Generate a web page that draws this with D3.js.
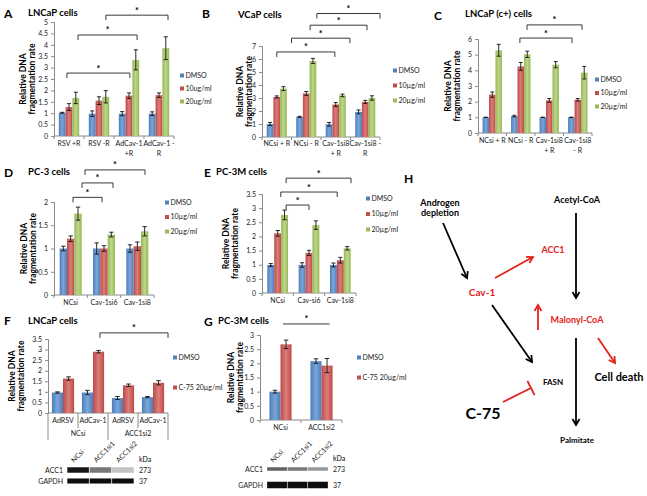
<!DOCTYPE html>
<html>
<head>
<meta charset="utf-8">
<script src="https://cdnjs.cloudflare.com/ajax/libs/d3/7.8.5/d3.min.js"></script>
<style>
  body { margin: 0; background: #fff; }
  svg { display: block; font-family: Lato, 'Open Sans', sans-serif; }
</style>
</head>
<body>
<div id="app"></div>
<script>
// ---- data ----
const legend3A = ['DMSO', '10ug/ml', '20ug/ml'];
const legend3 = ['DMSO', '10\u00b5g/ml', '20\u00b5g/ml'];
const legend2 = ['DMSO', 'C-75 20\u00b5g/ml'];

// A: LNCaP cells
const catsA = ['RSV +R', 'RSV -R', 'AdCav-1|+R', 'AdCav-1 -|R'];
const dmsoA = [1.02, 0.98, 0.98, 0.98];
const dmsoErrA = [0.02, 0.12, 0.09, 0.08];
const lowA = [1.27, 1.55, 1.77, 1.79];
const lowErrA = [0.15, 0.17, 0.12, 0.1];
const highA = [1.67, 1.72, 3.34, 3.85];
const highErrA = [0.25, 0.27, 0.44, 0.5];
const sigA = [[0.43, 2.53, 2.76], [0.8, 2.77, 4.43], [1.73, 3.8, 5.3]];

// B: VCaP cells
const catsB = ['NCsi + R', 'NCsi - R', 'Cav-1si8|+ R', 'Cav-1si8 -|R'];
const dmsoB = [1.0, 1.55, 0.98, 1.93];
const dmsoErrB = [0.12, 0.04, 0.14, 0.15];
const lowB = [3.08, 3.35, 2.5, 2.7];
const lowErrB = [0.08, 0.15, 0.15, 0.12];
const highB = [3.72, 5.85, 3.2, 3.0];
const highErrB = [0.15, 0.2, 0.1, 0.17];
const sigB = [[0.5, 2.47, 6.54], [1.0, 2.98, 7.6], [1.63, 3.56, 8.6], [1.86, 4.0, 9.5]];

// C: LNCaP (c+) cells
const catsC = ['NCsi + R', 'NCsi - R', 'Cav-1si8|+ R', 'Cav-1si8|- R'];
const dmsoC = [1.0, 1.08, 1.0, 1.0];
const dmsoErrC = [0.01, 0.05, 0.01, 0.01];
const lowC = [2.45, 4.25, 2.08, 2.12];
const lowErrC = [0.17, 0.25, 0.12, 0.08];
const highC = [5.28, 5.02, 4.36, 3.85];
const highErrC = [0.38, 0.2, 0.2, 0.4];
const sigC = [[1.47, 3.3, 6.06], [1.72, 3.65, 6.9]];

// D: PC-3 cells
const catsD = ['NCsi', 'Cav-1si6', 'Cav-1si8'];
const dmsoD = [1.0, 1.0, 1.0];
const dmsoErrD = [0.05, 0.12, 0.08];
const lowD = [1.21, 1.0, 1.05];
const lowErrD = [0.06, 0.06, 0.09];
const highD = [1.75, 1.3, 1.37];
const highErrD = [0.14, 0.05, 0.1];
const sigD = [[0.57, 1.44, 2.1], [0.84, 1.77, 2.41], [0.93, 2.73, 2.69]];

// E: PC-3M cells
const catsE = ['NCsi', 'Cav-si6', 'Cav-1si8'];
const dmsoE = [0.99, 0.99, 0.99];
const dmsoErrE = [0.05, 0.08, 0.07];
const lowE = [2.11, 1.42, 1.16];
const lowErrE = [0.1, 0.09, 0.1];
const highE = [2.76, 2.4, 1.58];
const highErrE = [0.17, 0.15, 0.06];
const sigE = [[0.77, 1.5, 3.11], [0.6, 2.4, 3.57], [0.77, 2.84, 4.06]];

// F: LNCaP cells, ACC1 knockdown
const catsF = ['AdRSV', 'AdCav-1', 'AdRSV', 'AdCav-1'];
const groupsF = ['NCsi', 'ACC1si2'];
const dmsoF = [0.97, 0.97, 0.71, 0.75];
const dmsoErrF = [0.03, 0.1, 0.07, 0.03];
const c75F = [1.63, 2.9, 1.31, 1.43];
const c75ErrF = [0.08, 0.06, 0.06, 0.1];
const sigF = [[1.73, 4.0, 3.79]];

// G: PC-3M cells, ACC1 knockdown
const catsG = ['NCsi', 'ACC1si2'];
const dmsoG = [1.0, 2.08];
const dmsoErrG = [0.05, 0.08];
const c75G = [2.67, 1.92];
const c75ErrG = [0.15, 0.25];
const sigG = [[0.56, 1.7, 3.39]];

// western blots: lanes and relative band intensity
const blotLanes = ['NCsi', 'ACC1si1', 'ACC1si2'];
const accF = [0.95, 0.5, 0.15];
const gapdhF = [1, 1, 1];
const accG = [0.6, 0.5, 0.35];
const gapdhG = [1, 1, 1];

// ---- drawing ----
const width = 647, height = 496;
const svg = d3.select('#app').append('svg')
  .attr('width', width).attr('height', height)
  .attr('viewBox', `0 0 ${width} ${height}`);

const defs = svg.append('defs');
const palette = [
  ['blue', '#4A7EBB', '#7CA5D8', '#4F81BD'],
  ['red', '#BC4A47', '#DC7D7A', '#C0504D'],
  ['green', '#96B853', '#BDD68E', '#9BBB59']
];
palette.forEach(([id, edge, mid]) => {
  const lg = defs.append('linearGradient').attr('id', 'g-' + id)
    .attr('x1', 0).attr('x2', 1).attr('y1', 0).attr('y2', 0);
  lg.append('stop').attr('offset', '0%').attr('stop-color', edge);
  lg.append('stop').attr('offset', '50%').attr('stop-color', mid);
  lg.append('stop').attr('offset', '100%').attr('stop-color', edge);
});
defs.append('filter').attr('id', 'blur')
  .append('feGaussianBlur').attr('stdDeviation', 0.6);

function panel(p) {
  const g = svg.append('g');
  const x = d3.scaleBand().domain(d3.range(p.cats.length)).range([p.x0, p.x1]);
  const bw = x.bandwidth();
  const groupW = bw * p.fill;
  const inner = d3.scaleBand().domain(d3.range(p.series.length)).range([0, groupW]);
  const off = (bw - groupW) / 2;
  const y = d3.scaleLinear().domain([0, p.max]).range([p.yBottom, p.yTop]);
  const unit = d3.scaleLinear().domain([0, p.cats.length]).range([p.x0, p.x1]);

  // letter + title
  g.append('text').attr('x', p.letter[1]).attr('y', p.letter[2])
    .attr('font-size', 12).attr('font-weight', 700).text(p.letter[0]);
  g.append('text').attr('x', p.titlePos[0]).attr('y', p.titlePos[1])
    .attr('font-size', 9.5).attr('font-weight', 700).text(p.title);

  // y axis
  const yAxis = g.append('g').attr('transform', `translate(${p.x0},0)`)
    .call(d3.axisLeft(y).tickValues(d3.range(0, p.max + p.step / 2, p.step))
      .tickSize(3).tickPadding(3).tickFormat(d3.format('~g')));
  yAxis.selectAll('text').attr('font-size', 7).attr('fill', '#222')
    .style('font-family', 'Lato, sans-serif');
  yAxis.selectAll('.domain, .tick line').attr('stroke', '#8a8a8a');

  // y title
  const yt = g.append('text').attr('font-size', 8.5).attr('font-weight', 700)
    .attr('text-anchor', 'middle')
    .attr('transform', `translate(${p.ytX},${(p.yTop + p.yBottom) / 2}) rotate(-90)`);
  yt.append('tspan').attr('x', 0).attr('dy', 0).text('Relative DNA');
  yt.append('tspan').attr('x', 0).attr('dy', 9).text('fragmentation rate');

  // x axis
  g.append('line').attr('x1', p.x0).attr('x2', p.x1)
    .attr('y1', y(0)).attr('y2', y(0)).attr('stroke', '#8a8a8a');
  const seps = d3.range(p.cats.length + 1);
  g.selectAll('.sep').data(seps).join('line')
    .attr('x1', d => unit(d)).attr('x2', d => unit(d))
    .attr('y1', y(0))
    .attr('y2', d => {
      if (!p.groups) return y(0) + 3;
      return (d % 2 === 0) ? y(0) + 27 : y(0) + 15;
    })
    .attr('stroke', '#8a8a8a');

  const lab = g.selectAll('.cat').data(p.cats).join('text')
    .attr('font-size', 7).attr('fill', '#222').attr('text-anchor', 'middle')
    .attr('transform', (d, i) => `translate(${x(i) + bw / 2},${y(0) + p.labelOff})`);
  lab.each(function (d) {
    d.split('|').forEach((line, k) => {
      d3.select(this).append('tspan').attr('x', 0).attr('dy', k ? 9.5 : 0).text(line);
    });
  });
  if (p.groups) {
    g.selectAll('.grp').data(p.groups).join('text')
      .attr('font-size', 7).attr('fill', '#222').attr('text-anchor', 'middle')
      .attr('x', (d, i) => unit(i * 2 + 1)).attr('y', y(0) + 23)
      .text(d => d);
  }

  // bars
  p.series.forEach((s, si) => {
    g.append('g').selectAll('rect').data(s.values).join('rect')
      .attr('x', (d, i) => x(i) + off + inner(si))
      .attr('y', d => y(d))
      .attr('width', inner.bandwidth())
      .attr('height', d => y(0) - y(d))
      .attr('fill', `url(#g-${palette[si][0]})`);
    const eb = g.append('g').attr('stroke', '#111').attr('stroke-width', 0.9);
    s.values.forEach((v, i) => {
      const cx = x(i) + off + inner(si) + inner.bandwidth() / 2;
      const e = s.errors[i];
      const cap = Math.min(4.5, inner.bandwidth() * 0.6);
      eb.append('line').attr('x1', cx).attr('x2', cx).attr('y1', y(v - e)).attr('y2', y(v + e));
      eb.append('line').attr('x1', cx - cap / 2).attr('x2', cx + cap / 2).attr('y1', y(v + e)).attr('y2', y(v + e));
      eb.append('line').attr('x1', cx - cap / 2).attr('x2', cx + cap / 2).attr('y1', y(v - e)).attr('y2', y(v - e));
    });
  });

  // significance brackets
  p.sig.forEach(([a, b, v]) => {
    const yy = y(v);
    const drop = p.plainSig ? 0 : 5;
    g.append('path')
      .attr('d', `M${unit(a)},${yy + drop}V${yy}H${unit(b)}V${yy + drop}`)
      .attr('fill', 'none').attr('stroke', '#222').attr('stroke-width', 0.9);
    g.append('text').attr('x', (unit(a) + unit(b)) / 2).attr('y', yy - 1.5)
      .attr('text-anchor', 'middle').attr('font-size', 9).attr('font-weight', 700)
      .text('*');
  });

  // legend
  const lg = g.append('g').attr('transform', `translate(${p.legend[0]},${p.legend[1]})`);
  p.series.forEach((s, si) => {
    const row = lg.append('g').attr('transform', `translate(0,${si * p.legend[2]})`);
    row.append('rect').attr('x', 0).attr('y', -3.5).attr('width', 4).attr('height', 4)
      .attr('fill', palette[si][3]);
    row.append('text').attr('x', 5.5).attr('y', 0.5).attr('font-size', 7).attr('fill', '#222')
      .text(s.name);
  });
}

panel({
  letter: ['A', 4, 18], title: 'LNCaP cells', titlePos: [28, 16],
  x0: 54, x1: 174, yTop: 22, yBottom: 136, max: 5, step: 0.5, fill: 0.68,
  cats: catsA, labelOff: 10, ytX: 26, sig: sigA,
  legend: [180, 77, 13],
  series: [
    { name: legend3A[0], values: dmsoA, errors: dmsoErrA },
    { name: legend3A[1], values: lowA, errors: lowErrA },
    { name: legend3A[2], values: highA, errors: highErrA }
  ]
});

panel({
  letter: ['B', 202, 18], title: 'VCaP cells', titlePos: [238, 18],
  x0: 262, x1: 380, yTop: 46, yBottom: 137, max: 7, step: 1, fill: 0.68,
  cats: catsB, labelOff: 9, ytX: 243, sig: sigB,
  legend: [393, 72, 15],
  series: [
    { name: legend3[0], values: dmsoB, errors: dmsoErrB },
    { name: legend3[1], values: lowB, errors: lowErrB },
    { name: legend3[2], values: highB, errors: highErrB }
  ]
});

panel({
  letter: ['C', 434, 20], title: 'LNCaP (c+) cells', titlePos: [465, 17],
  x0: 478, x1: 592, yTop: 39, yBottom: 133, max: 6, step: 1, fill: 0.68,
  cats: catsC, labelOff: 10, ytX: 451, sig: sigC,
  legend: [595, 81, 13.5],
  series: [
    { name: legend3[0], values: dmsoC, errors: dmsoErrC },
    { name: legend3[1], values: lowC, errors: lowErrC },
    { name: legend3[2], values: highC, errors: highErrC }
  ]
});

panel({
  letter: ['D', 4, 177], title: 'PC-3 cells', titlePos: [28, 175],
  x0: 54, x1: 154, yTop: 202, yBottom: 295, max: 2, step: 0.5, fill: 0.66,
  cats: catsD, labelOff: 10, ytX: 27, sig: sigD,
  legend: [165, 204, 14.5],
  series: [
    { name: legend3[0], values: dmsoD, errors: dmsoErrD },
    { name: legend3[1], values: lowD, errors: lowErrD },
    { name: legend3[2], values: highD, errors: highErrD }
  ]
});

panel({
  letter: ['E', 204, 177], title: 'PC-3M cells', titlePos: [216, 175],
  x0: 262, x1: 356, yTop: 194, yBottom: 293, max: 3.5, step: 0.5, fill: 0.66,
  cats: catsE, labelOff: 10, ytX: 229, sig: sigE,
  legend: [366, 200, 15.5],
  series: [
    { name: legend3[0], values: dmsoE, errors: dmsoErrE },
    { name: legend3[1], values: lowE, errors: lowErrE },
    { name: legend3[2], values: highE, errors: highErrE }
  ]
});

panel({
  letter: ['F', 4, 325], title: 'LNCaP cells', titlePos: [28, 324],
  x0: 48, x1: 168, yTop: 339, yBottom: 413, max: 3.5, step: 0.5, fill: 0.74,
  cats: catsF, groups: groupsF, labelOff: 10, ytX: 15, sig: sigF,
  legend: [173, 359, 30],
  series: [
    { name: legend2[0], values: dmsoF, errors: dmsoErrF },
    { name: legend2[1], values: c75F, errors: c75ErrF }
  ]
});

panel({
  letter: ['G', 204, 326], title: 'PC-3M cells', titlePos: [218, 324],
  x0: 260, x1: 342, yTop: 335, yBottom: 420, max: 3, step: 0.5, fill: 0.54,
  cats: catsG, labelOff: 10, ytX: 234, sig: sigG, plainSig: true,
  legend: [357, 359, 20],
  series: [
    { name: legend2[0], values: dmsoG, errors: dmsoErrG },
    { name: legend2[1], values: c75G, errors: c75ErrG }
  ]
});

// ---- western blots ----
function blot(b) {
  const g = svg.append('g');
  const lane = d3.scaleBand().domain(d3.range(blotLanes.length)).range([b.x0, b.x1]).padding(0.08);
  const shade = d3.scaleLinear().domain([0, 1]).range(['#e2e2e2', '#0d0d0d']);
  g.selectAll('.lbl').data(blotLanes).join('text')
    .attr('font-size', 7).attr('fill', '#222')
    .attr('transform', (d, i) => `translate(${lane(i) + lane.bandwidth() * 0.3},${b.labelY}) rotate(-45)`)
    .text(d => d);
  g.append('text').attr('x', b.x1 + 4).attr('y', b.accY - 8).attr('font-size', 7).text('kDa');
  [['ACC1', b.acc, b.accY, '273', b.accH], ['GAPDH', b.gapdh, b.gapdhY, '37', b.gapdhH]].forEach(([name, vals, yy, kda, h]) => {
    g.append('text').attr('x', b.x0 - 3).attr('y', yy + 2.5).attr('text-anchor', 'end')
      .attr('font-size', 7).attr('fill', '#222').text(name);
    g.append('text').attr('x', b.x1 + 4).attr('y', yy + 2.5)
      .attr('font-size', 7).attr('fill', '#222').text(kda);
    g.append('g').attr('filter', 'url(#blur)').selectAll('rect').data(vals).join('rect')
      .attr('x', (d, i) => lane(i) - 0.5).attr('width', lane.bandwidth() + 1)
      .attr('y', yy - h / 2).attr('height', h)
      .attr('fill', d => shade(d));
  });
}
blot({ x0: 66, x1: 135, labelY: 463, accY: 470, gapdhY: 481, accH: 5.5, gapdhH: 5, acc: accF, gapdh: gapdhF });
blot({ x0: 266, x1: 329, labelY: 463, accY: 469, gapdhY: 485, accH: 3.5, gapdhH: 6.5, acc: accG, gapdh: gapdhG });

// ---- H: pathway diagram ----
const red = '#E2231A';
const hg = svg.append('g');
hg.append('text').attr('x', 404).attr('y', 183).attr('font-size', 12).attr('font-weight', 700).text('H');

const nodes = [
  { t: 'Androgen', x: 440, y: 206, c: '#000', s: 9 },
  { t: 'depletion', x: 440, y: 216, c: '#000', s: 9 },
  { t: 'Acetyl-CoA', x: 577, y: 203, c: '#000', s: 9 },
  { t: 'ACC1', x: 553, y: 253, c: red, s: 9 },
  { t: 'Cav-1', x: 482, y: 296, c: red, s: 10 },
  { t: 'Malonyl-CoA', x: 577, y: 323, c: red, s: 9 },
  { t: 'FASN', x: 553, y: 385, c: '#000', s: 8 },
  { t: 'Cell death', x: 619, y: 381, c: '#000', s: 11 },
  { t: 'C-75', x: 483, y: 419, c: '#000', s: 16 },
  { t: 'Palmitate', x: 577, y: 443, c: '#000', s: 8 }
];
hg.selectAll('.node').data(nodes).join('text')
  .attr('x', d => d.x).attr('y', d => d.y).attr('text-anchor', 'middle')
  .attr('font-size', d => d.s).attr('font-weight', 700).attr('fill', d => d.c)
  .text(d => d.t);

const arrows = [
  [443, 223, 467, 278, '#000', true],
  [495, 278, 533, 257, red, true],
  [576, 213, 576, 298, '#000', true],
  [538, 330, 538, 305, red, true],
  [492, 305, 532, 362, '#000', true],
  [576, 338, 576, 425, '#000', true],
  [598, 338, 615, 363, red, true],
  [503, 402, 531, 388, red, false]
];
arrows.forEach(([x1, y1, x2, y2, c, head]) => {
  const ang = Math.atan2(y2 - y1, x2 - x1);
  hg.append('line').attr('x1', x1).attr('y1', y1).attr('x2', x2).attr('y2', y2)
    .attr('stroke', c).attr('stroke-width', 1.8);
  if (head) {
    const L = 7, a = Math.PI / 6;
    const p1 = [x2 - L * Math.cos(ang - a), y2 - L * Math.sin(ang - a)];
    const p2 = [x2 - L * Math.cos(ang + a), y2 - L * Math.sin(ang + a)];
    hg.append('path').attr('d', `M${p1}L${x2},${y2}L${p2}`)
      .attr('fill', 'none').attr('stroke', c).attr('stroke-width', 1.8);
  } else {
    const L = 8, px = -Math.sin(ang), py = Math.cos(ang);
    hg.append('line')
      .attr('x1', x2 + px * L).attr('y1', y2 + py * L)
      .attr('x2', x2 - px * L).attr('y2', y2 - py * L)
      .attr('stroke', c).attr('stroke-width', 1.8);
  }
});
</script>
</body>
</html>
